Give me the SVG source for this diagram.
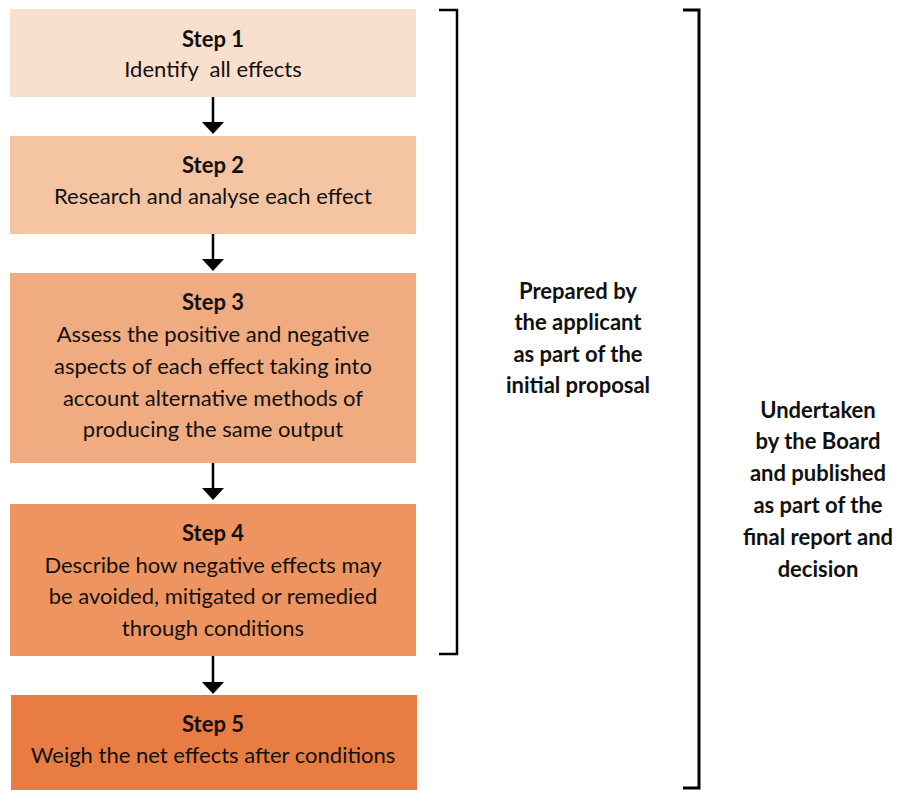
<svg xmlns="http://www.w3.org/2000/svg" width="898" height="790" viewBox="0 0 898 790">
<style>
text{font-family:Lato,"Open Sans","Liberation Sans",sans-serif;font-size:22px;fill:#111;text-anchor:middle}
.b{font-weight:bold}
.arr{stroke:#000;stroke-width:2.5;fill:none}
.brk{stroke:#000;fill:none}
</style>
<rect width="898" height="790" fill="#fff"/>
<g id="step1">
<rect x="10" y="9" width="406" height="88" fill="#F9DFCD"/>
<text x="213" y="47" class="b">Step 1</text>
<text x="213" y="77" xml:space="preserve" style="white-space:pre">Identify  all effects</text>
</g>
<g id="step2">
<rect x="10" y="136" width="406" height="98" fill="#F5C4A3"/>
<text x="213" y="173" class="b">Step 2</text>
<text x="213" y="204">Research and analyse each effect</text>
</g>
<g id="step3">
<rect x="10" y="273" width="406" height="190" fill="#F0AB81"/>
<text x="213" y="310" class="b">Step 3</text>
<text x="213" y="342">Assess the positive and negative</text>
<text x="213" y="374">aspects of each effect taking into</text>
<text x="213" y="406">account alternative methods of</text>
<text x="213" y="437">producing the same output</text>
</g>
<g id="step4">
<rect x="10" y="504" width="406" height="152" fill="#EE9460"/>
<text x="213" y="541" class="b">Step 4</text>
<text x="213" y="573">Describe how negative effects may</text>
<text x="213" y="604">be avoided, mitigated or remedied</text>
<text x="213" y="636">through conditions</text>
</g>
<g id="step5">
<rect x="11" y="695" width="406" height="95" fill="#E97C43"/>
<text x="213" y="732" class="b">Step 5</text>
<text x="213" y="763">Weigh the net effects after conditions</text>
</g>
<g id="connectors">
<line class="arr" x1="213" y1="97" x2="213" y2="124"/>
<path d="M202,122 L224,122 L213,134 Z"/>
<line class="arr" x1="213" y1="234" x2="213" y2="261"/>
<path d="M202,259 L224,259 L213,271 Z"/>
<line class="arr" x1="213" y1="463" x2="213" y2="490"/>
<path d="M202,488 L224,488 L213,500 Z"/>
<line class="arr" x1="213" y1="656" x2="213" y2="684"/>
<path d="M202,682 L224,682 L213,694 Z"/>
</g>
<g id="bracket1">
<path class="brk" stroke-width="2.5" d="M439,10 H457 V654 H439"/>
<text x="578" y="299" class="b">Prepared by</text>
<text x="578" y="330" class="b">the applicant</text>
<text x="578" y="362" class="b">as part of the</text>
<text x="578" y="393" class="b">initial proposal</text>
</g>
<g id="bracket2">
<path class="brk" stroke-width="3" d="M683,10 H699 V788 H683"/>
<text x="818" y="418" class="b">Undertaken</text>
<text x="818" y="449" class="b">by the Board</text>
<text x="818" y="481" class="b">and published</text>
<text x="818" y="513" class="b">as part of the</text>
<text x="818" y="545" class="b">final report and</text>
<text x="818" y="577" class="b">decision</text>
</g>
</svg>
